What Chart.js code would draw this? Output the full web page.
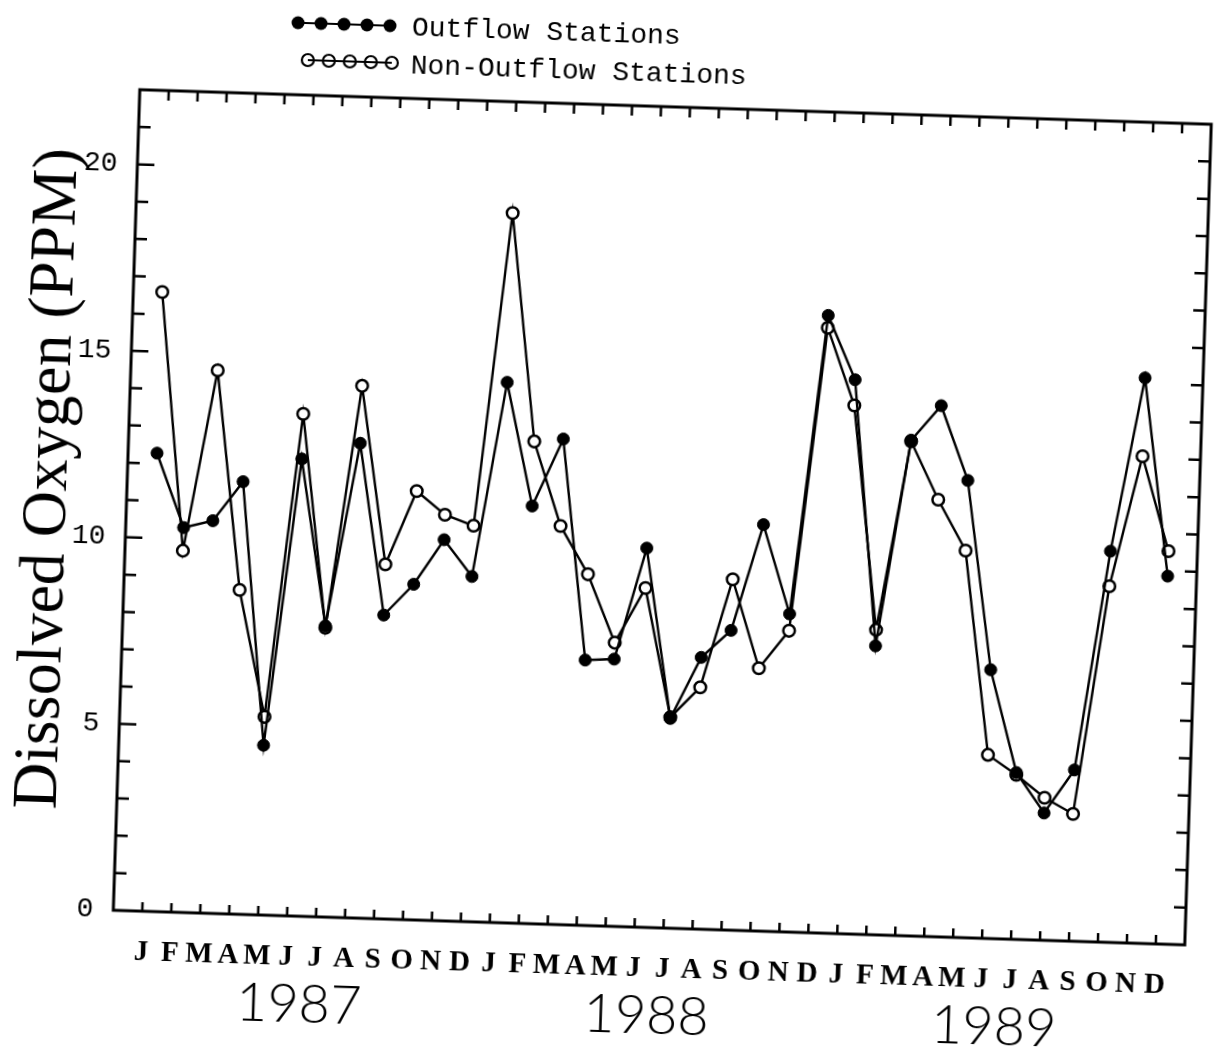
<!DOCTYPE html>
<html>
<head>
<meta charset="utf-8">
<title>Dissolved Oxygen</title>
<script src="https://cdn.jsdelivr.net/npm/chart.js@4.4.1/dist/chart.umd.min.js"></script>
<style>
  html, body { margin: 0; padding: 0; background: #fff; overflow: hidden; }
  /* the scanned original sits a little crooked on the page */
  #wrap {
    position: absolute; left: 0; top: 0;
    width: 1214px; height: 1051px;
    transform: rotate(1.85deg);
    transform-origin: 607px 525px;
  }
</style>
</head>
<body>
<div id="wrap"><canvas id="doChart"></canvas></div>
<script>
// month letters, repeated for each year on the x axis
const months = ['J', 'F', 'M', 'A', 'M', 'J', 'J', 'A', 'S', 'O', 'N', 'D'];
const years = ['1987', '1988', '1989'];

// dissolved oxygen (ppm), one value a month, Jan 1987 .. Dec 1989
const outflow = [12.28, 10.31, 10.52, 11.59, 4.55, 12.25, 7.80, 12.72, 8.14, 8.99, 10.21, 9.25,
                 14.48, 11.19, 13.01, 7.11, 7.16, 10.16, 5.62, 7.28, 8.03, 10.89, 8.52, 16.55,
                 14.85, 7.74, 13.28, 14.23, 12.25, 7.20, 4.47, 3.41, 4.59, 10.48, 15.15, 9.86];
const nonOutflow = [16.60, 9.69, 14.55, 8.69, 5.31, 13.46, 7.75, 14.26, 9.50, 11.49, 10.88, 10.61,
                    19.02, 12.92, 10.68, 9.41, 7.60, 9.09, 5.65, 6.48, 9.40, 7.04, 8.07, 16.22,
                    14.16, 8.17, 13.25, 11.71, 10.37, 4.92, 4.41, 3.82, 3.41, 9.54, 13.05, 10.53];

const yTickLabels = [0, 5, 10, 15, 20];
const yMax = 22;

const toPoints = arr => arr.map((v, i) => ({ x: i, y: v }));

// frame, inward ticks, legend, year labels and the y title
const scanFrame = {
  id: 'scanFrame',
  beforeDatasetsDraw(chart) {
    const { ctx, chartArea: a, scales: { x, y } } = chart;
    ctx.save();
    ctx.strokeStyle = '#000';
    ctx.lineWidth = 3;
    ctx.strokeRect(a.left, a.top, a.right - a.left, a.bottom - a.top);

    ctx.lineWidth = 2.5;
    ctx.beginPath();
    for (let i = 0; i < months.length * years.length; i++) {
      const px = x.getPixelForValue(i);
      ctx.moveTo(px, a.bottom); ctx.lineTo(px, a.bottom - 9);
      ctx.moveTo(px, a.top); ctx.lineTo(px, a.top + 10);
    }
    for (let v = 1; v < yMax; v++) {
      const py = y.getPixelForValue(v);
      const len = yTickLabels.includes(v) ? 17 : 12;
      ctx.moveTo(a.left, py); ctx.lineTo(a.left + len, py);
      ctx.moveTo(a.right, py); ctx.lineTo(a.right - 12, py);
    }
    ctx.stroke();
    ctx.restore();
  },
  afterDraw(chart) {
    const { ctx, chartArea: a, scales: { x } } = chart;
    ctx.save();
    ctx.fillStyle = '#000';
    ctx.strokeStyle = '#000';

    // legend: five markers strung on a line, then the name
    ctx.lineWidth = 2.2;
    ctx.beginPath();
    ctx.moveTo(282, 33); ctx.lineTo(374, 33);
    ctx.moveTo(293, 70); ctx.lineTo(377, 70);
    ctx.stroke();
    for (let k = 0; k < 5; k++) {
      ctx.beginPath();
      ctx.arc(282 + k * 23, 33, 6.5, 0, Math.PI * 2);
      ctx.fill();
      ctx.beginPath();
      ctx.arc(293 + k * 21, 70, 6, 0, Math.PI * 2);
      ctx.stroke();
    }
    ctx.font = '28px "Liberation Mono", monospace';
    ctx.textAlign = 'left';
    ctx.textBaseline = 'alphabetic';
    ctx.fillText('Outflow Stations', 396, 42);
    ctx.fillText('Non-Outflow Stations', 396, 80);

    // year under the middle of each block of months
    ctx.font = '300 54px Lato, "DejaVu Sans", sans-serif';
    ctx.textAlign = 'center';
    years.forEach((yr, k) => {
      ctx.fillText(yr, x.getPixelForValue(k * 12 + 5.5), a.bottom + 106);
    });

    // y axis title
    ctx.translate(a.left - 61, (a.top + a.bottom) / 2 - 19);
    ctx.rotate(-Math.PI / 2);
    ctx.font = '64px "Liberation Serif", serif';
    ctx.fillText('Dissolved Oxygen (PPM)', 0, 0);
    ctx.restore();
  }
};

const ctx = document.getElementById('doChart').getContext('2d');
const chart = new Chart(ctx, {
  type: 'line',
  data: {
    datasets: [{
      label: 'Outflow Stations',
      data: toPoints(outflow),
      borderColor: '#000',
      borderWidth: 2.4,
      pointRadius: 6,
      pointBorderWidth: 1,
      pointBackgroundColor: '#000',
      pointBorderColor: '#000',
      tension: 0
    }, {
      label: 'Non-Outflow Stations',
      data: toPoints(nonOutflow),
      borderColor: '#000',
      borderWidth: 2.4,
      pointRadius: 5.8,
      pointBorderWidth: 2.5,
      pointBackgroundColor: '#fff',
      pointBorderColor: '#000',
      tension: 0
    }]
  },
  options: {
    responsive: true,
    maintainAspectRatio: false,
    animation: false,
    layout: { padding: { top: 105, right: 7, left: 0, bottom: 0 } },
    plugins: {
      legend: { display: false },
      tooltip: { enabled: false }
    },
    scales: {
      x: {
        type: 'linear',
        min: -1,
        max: 36,
        grid: { display: false },
        border: { display: false },
        ticks: {
          stepSize: 1,
          autoSkip: false,
          maxRotation: 0,
          minRotation: 0,
          padding: 16,
          color: '#000',
          font: { family: 'Liberation Serif', size: 29, weight: 'bold' },
          callback: v => (v >= 0 && v < 36) ? months[v % 12] : ''
        },
        afterFit: s => { s.height = 125; }
      },
      y: {
        min: 0,
        max: yMax,
        grid: { display: false },
        border: { display: false },
        ticks: {
          stepSize: 1,
          autoSkip: false,
          padding: 12,
          color: '#000',
          font: { family: 'Liberation Mono', size: 28 },
          callback: v => yTickLabels.includes(v) ? String(v) : ''
        },
        afterFit: s => { s.width = 126; }
      }
    }
  },
  plugins: [scanFrame]
});
</script>
</body>
</html>
